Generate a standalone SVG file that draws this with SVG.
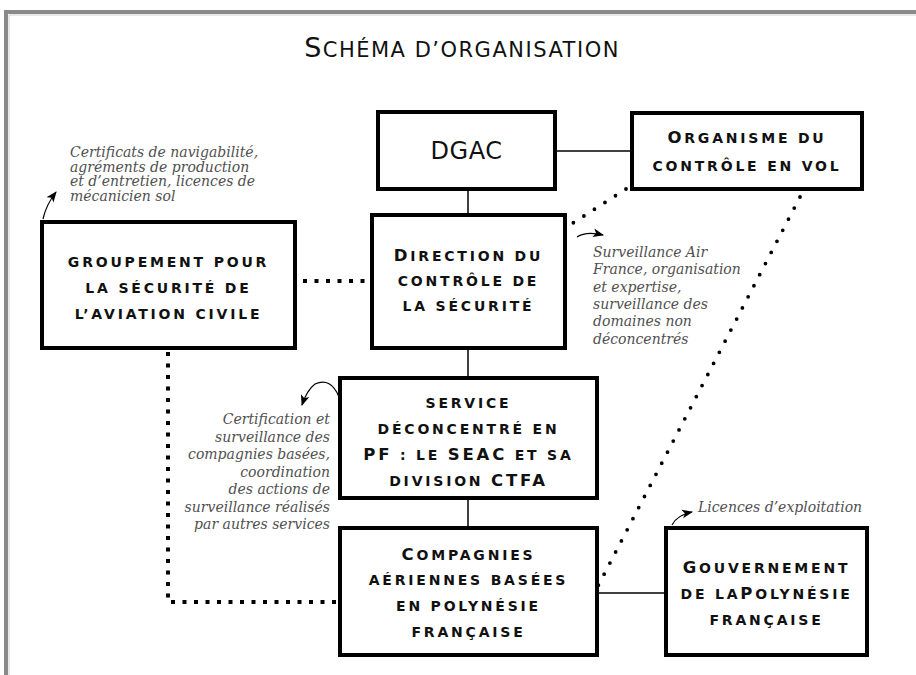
<svg xmlns="http://www.w3.org/2000/svg" width="916" height="675" viewBox="0 0 916 675">
<style>
.box{fill:#fff;stroke:#000;stroke-width:4}
.bt{font-family:"DejaVu Sans",sans-serif;font-weight:bold;font-size:14px;letter-spacing:2.8px;text-anchor:middle;fill:#111}
.B{font-size:16.5px}
.ann{font-family:"DejaVu Serif",serif;font-style:italic;font-size:14px;fill:#505050}
.ln{stroke:#000;stroke-width:1.5;fill:none}
.sq{stroke:#000;stroke-width:4;stroke-dasharray:4 7.5;fill:none}
.rd{stroke:#000;stroke-width:3.8;stroke-linecap:round;stroke-dasharray:0 12.5;fill:none}
.ar{stroke:#000;stroke-width:1.2;fill:none;marker-end:url(#ah)}
</style>
<defs>
<marker id="ah" viewBox="0 0 10 10" refX="9" refY="5" markerWidth="11" markerHeight="11" markerUnits="userSpaceOnUse" orient="auto">
<path d="M0,1 L10,5 L0,9 L2.5,5 Z" fill="#000"/>
</marker>
</defs>
<rect x="0" y="0" width="916" height="675" fill="#fff"/>
<path d="M6,675 V12 H916" fill="none" stroke="#8a8a8a" stroke-width="4"/>
<path d="M9,675 V15 H916" fill="none" stroke="#d0d0d0" stroke-width="1"/>
<text x="462" y="57" font-family="DejaVu Sans, sans-serif" font-size="21" letter-spacing="1.5" text-anchor="middle" fill="#111"><tspan font-size="27">S</tspan>CHÉMA D’ORGANISATION</text>

<g id="connectors">
<line class="ln" x1="555" y1="151" x2="632" y2="151" stroke="#555"/>
<line class="ln" x1="468" y1="189" x2="468" y2="215"/>
<line class="ln" x1="468" y1="348" x2="468" y2="378"/>
<line class="ln" x1="468" y1="498" x2="468" y2="528"/>
<line class="ln" x1="597" y1="593" x2="666" y2="593"/>
<line class="sq" x1="303" y1="281" x2="366" y2="281"/>
<polyline class="sq" points="168,352 168,602 338,602"/>
<line class="rd" x1="626" y1="189" x2="573" y2="223"/>
<line class="rd" x1="800" y1="197" x2="598" y2="586"/>
<path class="ar" d="M43,219 Q46,205 56,192"/>
<path class="ar" d="M577,237 Q586,231 603,235"/>
<path class="ar" d="M339,397 Q331,377 315,384 Q307,390 302,405"/>
<path class="ar" d="M672,525 Q677,515 692,512"/>
</g>

<g id="dgac">
<rect class="box" x="378" y="112" width="177" height="77"/>
<text x="466.5" y="159" font-family="DejaVu Sans, sans-serif" font-size="24" letter-spacing="0.5" text-anchor="middle" fill="#111">DGAC</text>
</g>
<g id="organisme">
<rect class="box" x="632" y="113" width="230" height="76"/>
<text class="bt" x="747" y="143"><tspan class="B">O</tspan>RGANISME DU</text>
<text class="bt" x="747" y="171">CONTRÔLE EN VOL</text>
</g>
<g id="groupement">
<rect class="box" x="42" y="222" width="253" height="126"/>
<text class="bt" x="168.5" y="267">GROUPEMENT POUR</text>
<text class="bt" x="168.5" y="293">LA SÉCURITÉ DE</text>
<text class="bt" x="168.5" y="319">L’AVIATION CIVILE</text>
</g>
<g id="direction">
<rect class="box" x="372" y="215" width="193" height="133"/>
<text class="bt" x="468.5" y="261"><tspan class="B">D</tspan>IRECTION DU</text>
<text class="bt" x="468.5" y="286">CONTRÔLE DE</text>
<text class="bt" x="468.5" y="311">LA SÉCURITÉ</text>
</g>
<g id="service">
<rect class="box" x="340" y="378" width="257" height="120"/>
<text class="bt" x="468.5" y="408">SERVICE</text>
<text class="bt" x="468.5" y="434">DÉCONCENTRÉ EN</text>
<text class="bt" x="468.5" y="460"><tspan class="B">PF</tspan> : LE <tspan class="B">SEAC</tspan> ET SA</text>
<text class="bt" x="468.5" y="486">DIVISION <tspan class="B">CTFA</tspan></text>
</g>
<g id="compagnies">
<rect class="box" x="340" y="528" width="257" height="127"/>
<text class="bt" x="468.5" y="560"><tspan class="B">C</tspan>OMPAGNIES</text>
<text class="bt" x="468.5" y="585">AÉRIENNES BASÉES</text>
<text class="bt" x="468.5" y="611">EN POLYNÉSIE</text>
<text class="bt" x="468.5" y="637">FRANÇAISE</text>
</g>
<g id="gouvernement">
<rect class="box" x="666" y="528" width="201" height="127"/>
<text class="bt" x="766.5" y="573"><tspan class="B">G</tspan>OUVERNEMENT</text>
<text class="bt" x="766.5" y="599">DE LA<tspan class="B">P</tspan>OLYNÉSIE</text>
<text class="bt" x="766.5" y="625">FRANÇAISE</text>
</g>

<g id="annotations">
<text class="ann"><tspan x="70" y="157">Certificats de navigabilité,</tspan><tspan x="70" y="171.5">agréments de production</tspan><tspan x="70" y="186">et d’entretien, licences de</tspan><tspan x="70" y="200.5">mécanicien sol</tspan></text>
<text class="ann"><tspan x="593" y="257">Surveillance Air</tspan><tspan x="593" y="274.3">France, organisation</tspan><tspan x="593" y="291.6">et expertise,</tspan><tspan x="593" y="308.9">surveillance des</tspan><tspan x="593" y="326.2">domaines non</tspan><tspan x="593" y="343.5">déconcentrés</tspan></text>
<text class="ann" text-anchor="end"><tspan x="330" y="424">Certification et</tspan><tspan x="330" y="441.5">surveillance des</tspan><tspan x="330" y="459">compagnies basées,</tspan><tspan x="330" y="476.5">coordination</tspan><tspan x="330" y="494">des actions de</tspan><tspan x="330" y="511.5">surveillance réalisés</tspan><tspan x="330" y="529">par autres services</tspan></text>
<text class="ann" x="698" y="512">Licences d’exploitation</text>
</g>
</svg>
